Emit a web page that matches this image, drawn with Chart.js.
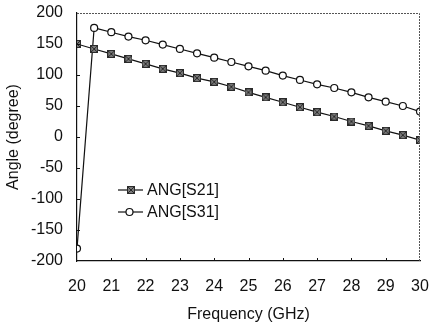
<!DOCTYPE html>
<html>
<head>
<meta charset="utf-8">
<script src="https://cdn.jsdelivr.net/npm/chart.js@4.4.0/dist/chart.umd.min.js"></script>
<style>
    html, body { margin: 0; padding: 0; background: #fff; }
    #wrap { width: 430px; height: 324px; }
</style>
</head>
<body>
<div id="wrap"><canvas id="angle-chart" width="430" height="324"></canvas></div>
<script>
// Chart values
const freqGHz = [20, 20.5, 21, 21.5, 22, 22.5, 23, 23.5, 24, 24.5, 25, 25.5, 26, 26.5, 27, 27.5, 28, 28.5, 29, 29.5, 30];
const angS21 = [150, 142, 134, 126, 118, 110, 103, 95, 89, 81, 72, 64, 56, 48, 40, 33, 25, 18, 10, 3, -5];
const angS31 = [-180, 176, 169, 162, 156, 149, 142, 135, 128, 121, 114, 107, 99, 92, 85, 79, 72, 64, 57, 50, 41];
const seriesNames = ['ANG[S21]', 'ANG[S31]'];
const xTicks = [20, 21, 22, 23, 24, 25, 26, 27, 28, 29, 30];
const yTicks = [-200, -150, -100, -50, 0, 50, 100, 150, 200];

const fontFamily = '"Liberation Sans", Arial, Helvetica, sans-serif';
const inkColor = '#111';

//Hatched square marker for S21
const squareMarker = document.createElement('canvas');
squareMarker.width = 8;
squareMarker.height = 8;
const sq = squareMarker.getContext('2d');
sq.fillStyle = '#7a7a7a';
sq.fillRect(0, 0, 8, 8);
sq.strokeStyle = '#2a2a2a';
sq.lineWidth = 1;
sq.beginPath();
sq.moveTo(0, 0); sq.lineTo(8, 8);
sq.moveTo(8, 0); sq.lineTo(0, 8);
sq.stroke();
sq.strokeRect(0.5, 0.5, 7, 7);

const toPoints = ys => freqGHz.map((f, i) => ({ x: f, y: ys[i] }));

const angleData = {
    datasets: [{
        label: seriesNames[0],
        data: toPoints(angS21),
        borderColor: inkColor,
        borderWidth: 1.2,
        pointStyle: squareMarker,
        pointRadius: 4,
        tension: 0
    }, {
        label: seriesNames[1],
        data: toPoints(angS31),
        borderColor: inkColor,
        borderWidth: 1.2,
        pointStyle: 'circle',
        pointRadius: 3.5,
        pointBackgroundColor: '#fff',
        pointBorderColor: inkColor,
        pointBorderWidth: 1.2,
        tension: 0
    }]
};

// frame, inward ticks and legend inside the plot
const framePlugin = {
    id: 'frame',
    afterDatasetsDraw(chart) {
        const { ctx, chartArea: a, scales } = chart;
        ctx.save();
        ctx.strokeStyle = '#555';
        ctx.lineWidth = 1;
        ctx.setLineDash([2, 1]);
        ctx.beginPath();
        ctx.moveTo(a.left, a.top + 0.5);
        ctx.lineTo(a.right - 0.5, a.top + 0.5);
        ctx.lineTo(a.right - 0.5, a.bottom);
        ctx.stroke();
        ctx.setLineDash([]);

        ctx.strokeStyle = inkColor;
        ctx.beginPath();
        xTicks.slice(1, -1).forEach(v => {
            const px = Math.round(scales.x.getPixelForValue(v)) + 0.5;
            ctx.moveTo(px, a.bottom);
            ctx.lineTo(px, a.bottom - 3);
        });
        yTicks.slice(1, -1).forEach(v => {
            const py = Math.round(scales.y.getPixelForValue(v)) + 0.5;
            ctx.moveTo(a.left, py);
            ctx.lineTo(a.left + 3, py);
        });
        ctx.stroke();

        // legend
        const rows = [190, 212];
        ctx.font = '16px ' + fontFamily;
        ctx.textBaseline = 'middle';
        ctx.fillStyle = inkColor;
        chart.data.datasets.forEach((ds, i) => {
            const y = rows[i];
            ctx.strokeStyle = inkColor;
            ctx.lineWidth = 1.2;
            ctx.beginPath();
            ctx.moveTo(118, y);
            ctx.lineTo(143, y);
            ctx.stroke();
            if (i === 0) {
                ctx.drawImage(squareMarker, 127, y - 4);
            } else {
                ctx.beginPath();
                ctx.arc(129.5, y, 3.5, 0, Math.PI * 2);
                ctx.fillStyle = '#fff';
                ctx.fill();
                ctx.stroke();
                ctx.fillStyle = inkColor;
            }
            ctx.fillText(ds.label, 147, y + 1);
        });
        ctx.restore();
    }
};

const angleOptions = {
    responsive: false,
    animation: { duration: 0 },
    layout: { padding: { top: 13, right: 10, left: 0, bottom: 0 } },
    scales: {
        x: {
            type: 'linear',
            min: 20,
            max: 30,
            afterFit: axis => {
                axis.height = 63;
                axis.paddingLeft = 0;
                axis.paddingRight = 0;
            },
            afterBuildTicks: axis => { axis.ticks = xTicks.map(v => ({ value: v })); },
            grid: { display: false, drawTicks: false },
            border: { display: true, color: inkColor, width: 1.2 },
            ticks: {
                padding: 16,
                color: inkColor,
                font: { family: fontFamily, size: 16 }
            },
            title: {
                display: true,
                text: 'Frequency (GHz)',
                color: inkColor,
                padding: { top: 0, bottom: 0 },
                font: { family: fontFamily, size: 16 }
            }
        },
        y: {
            min: -200,
            max: 200,
            afterFit: axis => {
                axis.width = 77;
                axis.paddingTop = 0;
                axis.paddingBottom = 0;
            },
            afterBuildTicks: axis => { axis.ticks = yTicks.map(v => ({ value: v })); },
            grid: { display: false, drawTicks: false },
            border: { display: true, color: inkColor, width: 1.2 },
            ticks: {
                padding: 14,
                color: inkColor,
                font: { family: fontFamily, size: 16 }
            },
            title: {
                display: true,
                text: 'Angle (degree)',
                color: inkColor,
                padding: { top: 4, bottom: 0 },
                font: { family: fontFamily, size: 16 }
            }
        }
    },
    plugins: {
        legend: { display: false },
        tooltip: { enabled: false }
    }
};

new Chart(document.querySelector('#angle-chart'), {
    type: 'line',
    data: angleData,
    options: angleOptions,
    plugins: [framePlugin]
});
</script>
</body>
</html>
